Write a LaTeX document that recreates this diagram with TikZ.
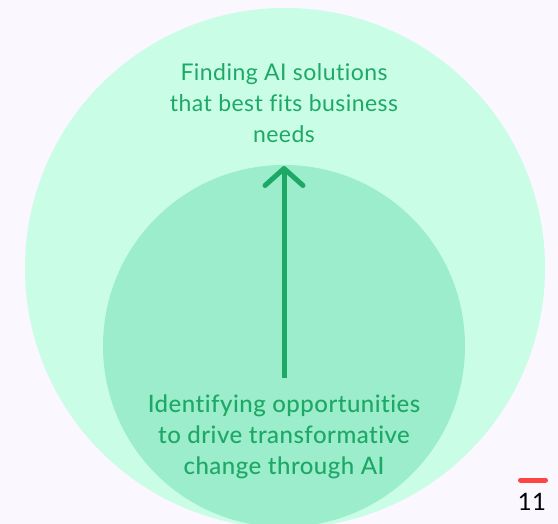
\documentclass[tikz,border=0pt]{standalone}
\usepackage{fontspec}
\setmainfont{Lato}[RawFeature=-liga,LetterSpace=2]
\newfontfamily\medfont{Lato Medium}[RawFeature=-liga,LetterSpace=2]
\usetikzlibrary{arrows.meta}

\definecolor{pagebg}{HTML}{FAF7FF}
\definecolor{outermint}{HTML}{C9FDE5}
\definecolor{innermint}{HTML}{9BEDCB}
\definecolor{leafgreen}{HTML}{1EA866}
\definecolor{markred}{HTML}{FF4444}

\begin{document}
\begin{tikzpicture}[x=1pt,y=-1pt]
		\fill[pagebg] (0,0) rectangle (558,524);
		\useasboundingbox (0,0) rectangle (558,524);
		
		\fill[outermint] (285,268) circle (260pt);
		\fill[innermint] (284,346) circle (181pt);
		
		\node[leafgreen,align=center,font=\fontsize{23}{31}\selectfont] (goal) at (284,103) {Finding AI solutions\\that best fits business\\needs};
		\node[leafgreen,align=center,font=\medfont\fontsize{24}{31}\selectfont] (start) at (284,437) {Identifying opportunities\\to drive transformative\\change through AI};
		
		\coordinate (tail) at (284,378);
		\coordinate (tip) at (284,166);
		\draw[leafgreen,line width=5pt,-{Straight Barb[round,length=17pt,width=38pt]}] (tail) -- (tip);
		
		\draw[markred,line width=5pt,line cap=round] (520.5,480) -- (545.5,480);
		\node[font=\fontsize{24}{24}\selectfont] (page) at (532,502) {11};
\end{tikzpicture}
\end{document}
